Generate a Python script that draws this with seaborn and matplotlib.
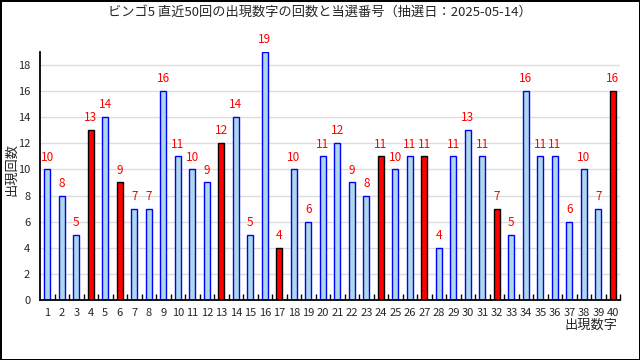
import matplotlib
matplotlib.use("Agg")
import matplotlib.pyplot as plt
from matplotlib.ticker import FixedLocator
import seaborn as sns
import pandas as pd

numbers = list(range(1, 41))
counts = [10, 8, 5, 13, 14, 9, 7, 7, 16, 11,
          10, 9, 12, 14, 5, 19, 4, 10, 6, 11,
          12, 9, 8, 11, 10, 11, 11, 4, 11, 13,
          11, 7, 5, 16, 11, 11, 6, 10, 7, 16]
winning = [4, 6, 13, 17, 24, 27, 32, 40]

title = "ビンゴ5 直近50回の出現数字の回数と当選番号（抽選日：2025-05-14）"

sns.set_theme(style="white")
plt.rcParams["font.family"] = ["Noto Sans CJK JP", "DejaVu Sans"]

df = pd.DataFrame({"number": [str(n) for n in numbers], "count": counts})
fills = ["red" if n in winning else "lightblue" for n in numbers]
edges = ["black" if n in winning else "blue" for n in numbers]

fig = plt.figure(figsize=(6.4, 3.6), dpi=100, edgecolor="black", linewidth=2)
ax = fig.add_axes([0.0625, 0.1667, 0.9065, 0.689])

sns.barplot(data=df, x="number", y="count", hue="number", palette=fills,
            legend=False, width=0.42, ax=ax, saturation=1)
for bar, ec in zip(ax.patches, edges):
    bar.set_edgecolor(ec)
    bar.set_linewidth(1)

for i, c in enumerate(counts):
    ax.text(i, c + 0.45, str(c), color="red", ha="center", va="bottom", fontsize=8.5)

ax.set_ylim(0, 19)
ax.set_xlim(-0.5, 39.5)
ax.set_yticks(range(0, 19, 2))
ax.yaxis.grid(True, color="#dddddd", linewidth=1)
ax.set_axisbelow(True)
for s in ["top", "right"]:
    ax.spines[s].set_visible(False)
for s in ["left", "bottom"]:
    ax.spines[s].set_color("black")
    ax.spines[s].set_linewidth(1.3)

ax.xaxis.set_minor_locator(FixedLocator([i + 0.5 for i in range(40)]))
ax.tick_params(axis="x", which="major", length=0, labelsize=8, pad=6)
ax.tick_params(axis="x", which="minor", direction="in", length=4, width=1, color="black", bottom=True)
ax.tick_params(axis="y", length=0, labelsize=8, pad=7)

ax.set_xlabel("")
ax.set_ylabel("")
fig.text(0.018, 0.53, "出現回数", rotation=90, ha="center", va="center", fontsize=9.5)
fig.text(0.965, 0.097, "出現数字", ha="right", va="center", fontsize=9.5)
fig.text(0.5, 0.965, title, ha="center", va="center", fontsize=9.5)

fig.savefig("out.png", dpi=100, edgecolor="black")
